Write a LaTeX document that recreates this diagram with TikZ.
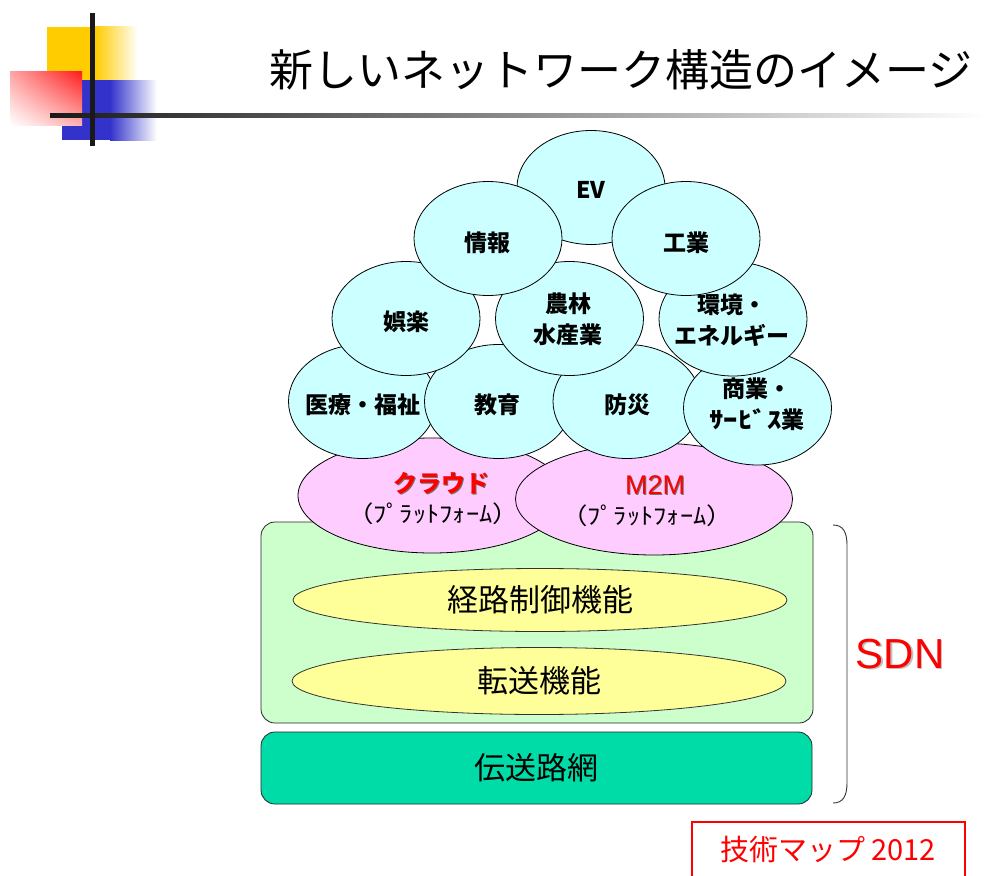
\documentclass[tikz,border=0pt]{standalone}
\usepackage{fontspec}
\setmainfont{Noto Sans CJK JP}
\newfontfamily\arialfont{Liberation Sans}
\newfontfamily\widejp[FakeStretch=1.15]{Noto Sans CJK JP}
\newfontfamily\widerjp[FakeStretch=1.25]{Noto Sans CJK JP}
\usetikzlibrary{shapes.geometric,shadings}
\definecolor{cyanfill}{HTML}{CCFFFF}
\definecolor{pinkfill}{HTML}{FFCCFF}
\definecolor{greenfill}{HTML}{CCFFCC}
\definecolor{yellfill}{HTML}{FFFF99}
\definecolor{tealfill}{HTML}{00DCA8}
\definecolor{decoyellow}{HTML}{FFCC00}
\definecolor{decoblue}{HTML}{3333CC}
\definecolor{decored}{HTML}{FF1A1A}
\definecolor{redtext}{HTML}{FF0000}
\begin{document}
\begin{tikzpicture}[x=1pt,y=-1pt,
  cyanell/.style={ellipse, draw=black, line width=0.8pt, fill=cyanfill, minimum width=148pt, minimum height=114pt, inner sep=0pt},
  pinkell/.style={ellipse, draw=black, line width=0.8pt, fill=pinkfill, inner sep=0pt},
  yellell/.style={ellipse, draw=black!80, line width=0.8pt, fill=yellfill, inner sep=0pt, font=\fontsize{31}{36}\selectfont},
  boxstyle/.style={draw=black!85, line width=0.8pt, rounded corners=14pt, inner sep=0pt, font=\fontsize{31}{36}\selectfont},
  celltext/.style={font=\fontsize{23}{31}\selectfont\bfseries, align=center, inner sep=0pt},
  redlbl/.style={font=\fontsize{24}{28}\selectfont\bfseries, text=redtext, inner sep=0pt},
  shadowlbl/.style={font=\fontsize{24}{28}\selectfont\bfseries, text=black!55, inner sep=0pt},
  platlbl/.style={font=\widejp\fontsize{23}{26}\selectfont, inner sep=0pt}
]
\useasboundingbox (0,0) rectangle (984,875);
\fill[white] (0,0) rectangle (984,875);

% decoration
\fill[decoyellow] (47,27) rectangle (95,80);
\shade[left color=decoyellow, right color=white] (95,27) rectangle (138,80);
\fill[decoblue] (62,80) rectangle (110,140);
\shade[left color=decoblue, right color=white] (110,80) rectangle (157,140);
\shade[upper right=decored, upper left=decored!40!white, lower right=decored!35!white, lower left=white] (10,71) rectangle (82,125);
\shade[left color=black!90, right color=white] (50,113) rectangle (984,117);
\fill[black!90] (90,13) rectangle (95,146);

% title
\node[inner sep=0pt, font=\fontsize{44}{50}\selectfont] (title) at (621,70) {新しいネットワーク構造のイメージ};

% lower boxes
\node[boxstyle, fill=greenfill, minimum width=552pt, minimum height=201pt] (sdnbox) at (537,622.5) {};
\node[boxstyle, fill=tealfill, minimum width=551pt, minimum height=72pt] (densou) at (536.5,768) {伝送路網};
\node[yellell, minimum width=494pt, minimum height=63pt] (keiro) at (540,600) {経路制御機能};
\node[yellell, minimum width=494pt, minimum height=67pt] (tensou) at (539,681) {転送機能};

% platforms
\node[pinkell, minimum width=268pt, minimum height=115pt] (cloud) at (432,495.5) {};
\node[pinkell, minimum width=277pt, minimum height=112pt] (m2m) at (654,499) {};

% application ellipses
\node[cyanell] (ev) at (591,187.5) {};
\node[cyanell] (iryo) at (362.5,401.5) {};
\node[cyanell] (kyoiku) at (498.5,401.5) {};
\node[cyanell] (bousai) at (627,401.5) {};
\node[cyanell] (shogyo) at (757.5,408) {};
\node[cyanell] (goraku) at (406,318.5) {};
\node[cyanell] (norin) at (569.5,318.5) {};
\node[cyanell] (kankyo) at (733,319) {};
\node[cyanell] (joho) at (488,238.5) {};
\node[cyanell] (kogyo) at (686,238.5) {};

% labels of application ellipses
\node[celltext] (evt) at (591,190) {EV};
\node[celltext] (johot) at (487,243) {情報};
\node[celltext] (kogyot) at (686,243) {工業};
\node[celltext] (gorakut) at (406,322) {娯楽};
\node[celltext] (norint) at (568,319) {農林\\水産業};
\node[celltext] (kankyot) at (732,320) {環境・\\エネルギー};
\node[celltext] (iryot) at (363,405) {医療・福祉};
\node[celltext] (kyoikut) at (497,405) {教育};
\node[celltext] (bousait) at (627,405) {防災};
\node[celltext] (shogyot) at (757,404) {商業・\\{\widerjp ｻｰﾋﾞｽ}業};

% platform labels
\node[shadowlbl] (cloudsh) at (442.3,484.3) {クラウド};
\node[redlbl] (cloudt) at (441,483) {クラウド};
\node[platlbl] (cloudp) at (433,514) {（ﾌﾟﾗｯﾄﾌｫｰﾑ）};
\node[inner sep=0pt, font=\arialfont\fontsize{27}{30}\selectfont, text=black!55] (m2msh) at (656.2,486.2) {M2M};
\node[inner sep=0pt, font=\arialfont\fontsize{27}{30}\selectfont, text=redtext] (m2mt) at (655,485) {M2M};
\node[platlbl] (m2mp) at (647,516) {（ﾌﾟﾗｯﾄﾌｫｰﾑ）};

% SDN bracket
\draw[black!80, line width=0.9pt] (833,525) .. controls (843,525) and (847,532) .. (847,545) -- (847,783) .. controls (847,796) and (843,803) .. (833,803);
\node[inner sep=0pt, font=\arialfont\fontsize{42}{46}\selectfont, text=black!25] (sdnsh) at (901.5,655.5) {SDN};
\node[inner sep=0pt, font=\arialfont\fontsize{42}{46}\selectfont, text=redtext] (sdn) at (900,654) {SDN};

% tech map label
\draw[redtext, line width=1.2pt] (692,876) -- (692,822) -- (965,822) -- (965,876);
\node[inner sep=0pt, text=redtext, font=\fontsize{29}{32}\selectfont] (techmap) at (828,849) {技術マップ 2012};
\end{tikzpicture}
\end{document}
